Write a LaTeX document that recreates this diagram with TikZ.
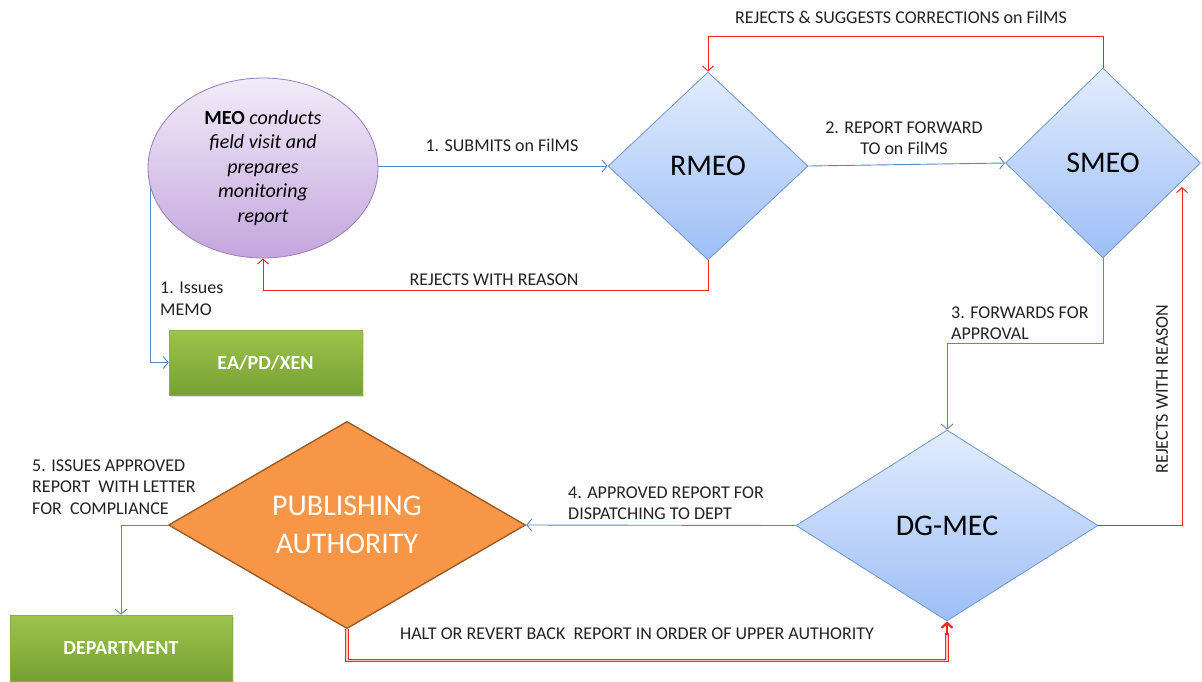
\documentclass[tikz,border=0pt]{standalone}
\usepackage{fontspec}
\setmainfont{Carlito}
\usetikzlibrary{shapes.geometric,arrows.meta,calc,shadows}
\definecolor{bl}{HTML}{5B86C4}
\definecolor{rd}{HTML}{F02828}
\definecolor{dtop}{HTML}{E2ECFD}
\definecolor{dbot}{HTML}{9DBEF6}
\definecolor{dborder}{HTML}{7096CC}
\definecolor{gtop}{HTML}{9CC44C}
\definecolor{gbot}{HTML}{76A034}
\definecolor{gborder}{HTML}{8AAE4A}
\definecolor{mtop}{HTML}{F1ECF8}
\definecolor{mbot}{HTML}{C4A6DE}
\definecolor{mborder}{HTML}{9A7CB8}
\definecolor{porange}{HTML}{F79646}
\definecolor{pborder}{HTML}{9C5C26}
\definecolor{txt}{HTML}{222222}
\begin{document}
\begin{tikzpicture}[x=1pt,y=-1pt,
  lbl/.style={font=\fontsize{18}{21.5}\selectfont, text=txt, inner sep=0pt},
  dia/.style={diamond, draw=dborder, line width=0.8pt, top color=dtop, bottom color=dbot,
     inner sep=0pt, text=black, font=\fontsize{30}{32}\selectfont},
  gbox/.style={rectangle, draw=gborder, line width=0.6pt, top color=gtop, bottom color=gbot,
     text=white, font=\bfseries\fontsize{20}{22}\selectfont,
     drop shadow={opacity=0.25, shadow xshift=2pt, shadow yshift=-2pt}},
  bline/.style={draw=bl, line width=0.9pt, -{Straight Barb[length=5pt,width=12pt]}},
  rline/.style={draw=rd, line width=1pt, -{Straight Barb[length=5pt,width=11pt]}},
]
\path[use as bounding box] (0,0) rectangle (1202,681);

% nodes
\node[ellipse, minimum width=230pt, minimum height=180pt, draw=mborder, line width=0.8pt,
      top color=mtop, bottom color=mbot, align=center, text=black,
      font=\itshape\fontsize{20}{24.5}\selectfont] (meo) at (263,168)
      {{\upshape\bfseries MEO} conducts\\field visit and\\prepares\\monitoring\\report};
\node[gbox, minimum width=193pt, minimum height=65pt] (ea) at (265.5,362.5) {EA/PD/XEN};
\node[dia, minimum width=200pt, minimum height=188pt] (rmeo) at (708,166) {RMEO};
\node[dia, minimum width=195pt, minimum height=190pt] (smeo) at (1103,163) {SMEO};
\node[dia, minimum width=302pt, minimum height=191pt] (dg) at (947,525.5) {DG-MEC};
\node[diamond, draw=pborder, line width=1.4pt, fill=porange, minimum width=357pt,
      minimum height=196pt, inner sep=0pt, text=white, align=center,
      font=\fontsize{30}{38}\selectfont] (pa) at (347,525) {PUBLISHING\\AUTHORITY};
\node[gbox, minimum width=222pt, minimum height=66pt]
      (dept) at (121,648) {DEPARTMENT};

% connectors
\draw[bline] (meo.east |- rmeo.west) -- (rmeo.west);
\node[lbl] (l1) at (502,145) {1. SUBMITS on FilMS};

\draw[rline] (rmeo.south) -- ++(0,30) -| (meo.south);
\node[lbl] (l2) at (494,280) {REJECTS WITH REASON};

\coordinate (mleft) at ($(meo.center)+(-115,17)$);
\draw[bline] (meo.190) |- (ea.west);
\node[lbl, align=left, anchor=west] (l3) at (160,299) {1. Issues\\MEMO};

\draw[bline] (rmeo.east) -- (smeo.west);
\node[lbl, align=center] (l4) at (904,138) {2. REPORT FORWARD\\TO on FilMS};

\draw[rline] (smeo.north) -- ++(0,-31) -| (rmeo.north);
\node[lbl] (l5) at (901,17) {REJECTS \& SUGGESTS CORRECTIONS on FilMS};

\draw[bline] (smeo.south) -- ++(0,85) -| (dg.north);
\node[lbl, align=left, anchor=west] (l6) at (951,323) {3. FORWARDS FOR\\APPROVAL};

\coordinate (rin) at (1182,187);
\draw[rline] (dg.east) -| (rin);
\node[lbl, rotate=90] (l7) at (1162,389) {REJECTS WITH REASON};

\draw[bline] (dg.west) -- (pa.east);
\node[lbl, align=left, anchor=west] (l8) at (568,503) {4. APPROVED REPORT FOR\\DISPATCHING TO DEPT};

\draw[draw=rd, line width=0.9pt, double=rd!25, double distance=1.4pt]
   (pa.south) -- ++(0,31) -| ($(dg.south)+(0,12)$);
\draw[draw=rd, line width=2.2pt, -{Straight Barb[length=5pt,width=11pt]}]
   ($(dg.south)+(0,14)$) -- (dg.south);
\node[lbl] (l9) at (637,634) {HALT OR REVERT BACK\ \ REPORT IN ORDER OF UPPER AUTHORITY};

\draw[bline] (pa.west) -| (dept.north);
\node[lbl, align=left, anchor=west] (l10) at (32,487) {5. ISSUES APPROVED\\REPORT\ \ WITH LETTER\\FOR\ \ COMPLIANCE};
\end{tikzpicture}
\end{document}
